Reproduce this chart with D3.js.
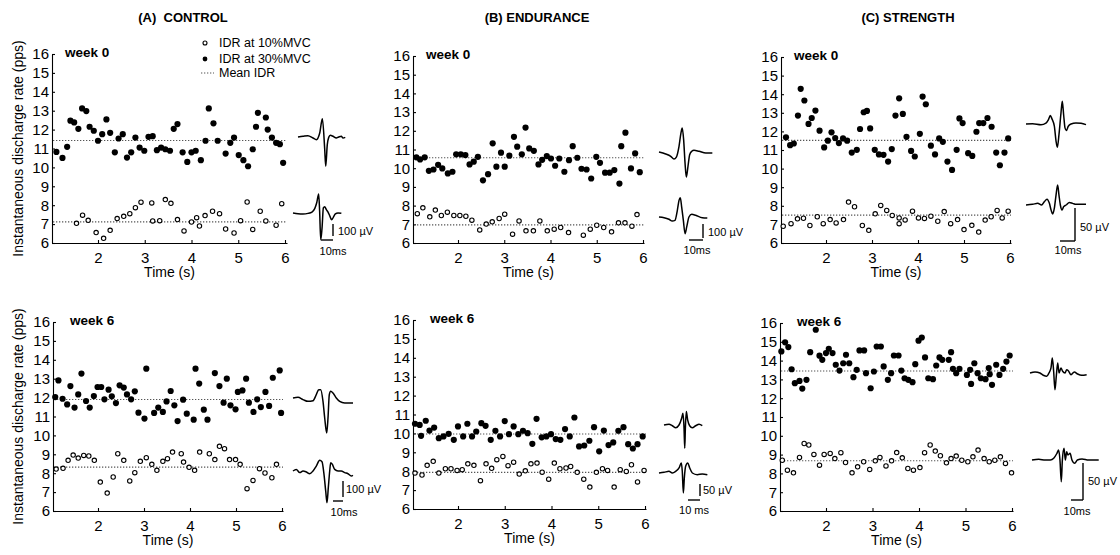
<!DOCTYPE html>
<html><head><meta charset="utf-8">
<script src="https://cdn.jsdelivr.net/npm/d3@7"></script>
<style>
body{margin:0;background:#fff}
svg{display:block}
text{font-family:"Liberation Sans",Arial,sans-serif;fill:#000}
</style>
</head><body>
<svg id="chart" width="1120" height="555"></svg>
<script>
// ---------------- DATA ----------------
const groupTitles = ["(A)  CONTROL", "(B) ENDURANCE", "(C) STRENGTH"];
const weekLabels = ["week 0", "week 6"];
const xTickValues = [2, 3, 4, 5, 6];
const yTickValues = [6, 7, 8, 9, 10, 11, 12, 13, 14, 15, 16];
const legendLabels = ["IDR at 10%MVC", "IDR at 30%MVC", "Mean IDR"];
const yAxisTitle = "Instantaneous discharge rate (pps)";
const xAxisTitle = "Time (s)";

// [time (s), instantaneous discharge rate (pps)]
const ctrlW0_30 = [[1.11,10.82],[1.24,10.50],[1.34,11.09],[1.41,12.47],[1.49,12.38],[1.58,12.04],[1.66,13.12],[1.75,12.98],[1.82,12.15],[1.91,11.94],[2.00,11.41],[2.09,11.76],[2.18,12.54],[2.26,11.83],[2.36,10.80],[2.44,11.53],[2.53,11.76],[2.62,10.52],[2.71,10.80],[2.80,11.58],[2.89,11.05],[2.99,10.88],[3.08,11.62],[3.17,11.65],[3.26,10.91],[3.35,11.05],[3.44,10.96],[3.54,10.88],[3.62,12.04],[3.70,12.29],[3.81,10.80],[3.91,10.29],[4.00,10.80],[4.09,10.88],[4.20,10.38],[4.30,11.41],[4.37,13.12],[4.47,12.33],[4.56,11.41],[4.73,10.73],[4.83,11.30],[4.91,11.58],[5.01,10.65],[5.11,10.38],[5.21,10.06],[5.31,10.96],[5.38,12.15],[5.42,12.89],[5.59,12.64],[5.63,12.00],[5.72,11.58],[5.81,11.30],[5.89,11.23],[5.96,10.24]];
const ctrlW0_10 = [[1.54,7.04],[1.67,7.47],[1.79,7.20],[1.96,6.55],[2.12,6.25],[2.26,6.67],[2.41,7.29],[2.55,7.41],[2.68,7.55],[2.80,7.87],[2.92,8.16],[3.15,8.12],[3.17,7.17],[3.32,7.18],[3.44,8.30],[3.56,8.10],[3.70,7.24],[3.84,6.64],[4.00,7.11],[4.11,7.34],[4.17,6.90],[4.29,7.45],[4.45,7.68],[4.60,7.55],[4.73,6.74],[4.91,6.53],[5.05,7.18],[5.19,8.17],[5.31,6.72],[5.47,7.68],[5.59,7.17],[5.81,6.94],[5.93,8.08]];
const ctrlW0_mean = [11.42, 7.12];

const endW0_30 = [[1.10,10.58],[1.18,10.47],[1.28,10.58],[1.37,9.86],[1.47,9.93],[1.57,10.18],[1.66,9.99],[1.78,9.72],[1.88,9.81],[1.96,10.74],[2.06,10.74],[2.16,10.70],[2.25,10.20],[2.34,10.35],[2.43,10.61],[2.54,9.35],[2.65,9.68],[2.75,11.33],[2.83,10.08],[2.93,10.83],[3.01,10.08],[3.11,10.67],[3.21,11.68],[3.28,11.15],[3.38,10.74],[3.46,12.17],[3.54,11.06],[3.64,10.93],[3.74,10.20],[3.82,10.45],[3.92,10.65],[4.01,10.52],[4.10,10.13],[4.19,10.52],[4.30,9.81],[4.40,10.43],[4.48,11.18],[4.58,10.56],[4.67,9.97],[4.78,9.93],[4.88,9.45],[4.99,10.61],[5.07,10.29],[5.18,9.76],[5.28,9.76],[5.38,9.90],[5.49,9.18],[5.53,11.18],[5.62,11.90],[5.74,9.99],[5.83,10.79],[5.93,9.79]];
const endW0_10 = [[1.12,7.57],[1.24,7.88],[1.39,7.40],[1.51,7.76],[1.64,7.47],[1.77,7.65],[1.91,7.47],[2.04,7.47],[2.17,7.43],[2.30,7.22],[2.47,6.70],[2.61,7.01],[2.74,7.13],[2.89,7.31],[3.01,7.54],[3.18,6.47],[3.32,7.18],[3.47,6.65],[3.63,6.65],[3.77,7.18],[3.93,6.65],[4.08,6.74],[4.22,6.83],[4.39,6.56],[4.71,6.42],[4.86,6.74],[5.00,6.95],[5.15,6.83],[5.32,6.60],[5.47,7.08],[5.61,7.08],[5.76,6.90],[5.87,7.52]];
const endW0_mean = [10.56, 6.97];

const strW0_30 = [[1.13,11.68],[1.22,11.26],[1.30,11.35],[1.39,12.85],[1.45,14.29],[1.53,13.66],[1.62,12.40],[1.69,12.72],[1.77,13.12],[1.86,12.04],[1.96,11.14],[2.04,11.50],[2.12,11.95],[2.20,11.64],[2.28,11.37],[2.37,11.62],[2.46,11.50],[2.56,10.86],[2.67,11.01],[2.74,12.13],[2.82,13.03],[2.89,13.10],[2.96,12.16],[3.06,11.01],[3.15,10.76],[3.25,10.74],[3.35,10.38],[3.43,11.05],[3.51,12.85],[3.59,13.78],[3.67,12.94],[3.75,11.71],[3.85,10.95],[3.93,10.65],[4.04,11.87],[4.10,13.87],[4.17,13.46],[4.28,11.23],[4.37,10.76],[4.46,11.62],[4.54,11.44],[4.64,10.38],[4.74,9.93],[4.84,11.01],[4.90,12.70],[4.97,12.45],[5.09,10.83],[5.18,10.68],[5.27,11.98],[5.33,12.45],[5.42,12.45],[5.51,12.72],[5.60,12.25],[5.70,10.86],[5.78,10.18],[5.88,10.86],[5.96,11.62]];
const strW0_10 = [[1.07,6.90],[1.24,7.04],[1.38,7.30],[1.51,7.33],[1.65,6.94],[1.81,7.41],[1.94,7.04],[2.09,7.26],[2.22,7.08],[2.38,7.26],[2.49,8.20],[2.62,7.95],[2.79,6.94],[2.93,6.68],[3.07,7.57],[3.19,8.02],[3.32,7.75],[3.44,7.48],[3.59,7.35],[3.59,7.04],[3.72,7.24],[3.88,7.71],[4.01,7.35],[4.14,7.32],[4.28,7.44],[4.43,7.17],[4.57,7.69],[4.71,7.04],[4.86,7.26],[5.00,6.72],[5.17,6.95],[5.32,6.59],[5.46,7.23],[5.59,7.41],[5.72,7.75],[5.83,7.35],[5.96,7.71]];
const strW0_mean = [11.52, 7.50];

const ctrlW6_30 = [[1.07,12.03],[1.14,12.91],[1.23,11.94],[1.33,11.64],[1.40,12.61],[1.49,11.47],[1.57,12.17],[1.64,13.27],[1.74,11.82],[1.82,11.47],[1.91,12.08],[1.99,12.56],[2.07,12.56],[2.14,11.91],[2.23,12.42],[2.30,12.07],[2.39,11.71],[2.47,12.65],[2.56,12.53],[2.63,12.17],[2.72,11.91],[2.80,12.33],[2.88,11.20],[3.01,10.89],[3.05,13.53],[3.22,11.19],[3.31,11.47],[3.41,11.24],[3.49,11.80],[3.58,12.35],[3.66,11.59],[3.73,10.76],[3.85,11.89],[3.93,11.15],[4.08,10.83],[4.12,13.53],[4.20,12.74],[4.30,11.36],[4.38,10.83],[4.54,13.30],[4.64,12.61],[4.73,11.73],[4.80,13.00],[4.88,11.59],[4.99,11.38],[5.04,12.30],[5.14,12.38],[5.22,13.00],[5.28,11.73],[5.38,11.24],[5.46,11.91],[5.54,11.50],[5.64,12.30],[5.72,11.56],[5.80,13.05],[5.95,13.44],[5.98,11.19]];
const ctrlW6_10 = [[1.09,8.22],[1.24,8.26],[1.35,8.68],[1.46,8.96],[1.57,8.80],[1.69,8.94],[1.80,8.91],[1.92,8.68],[2.05,7.53],[2.20,6.95],[2.33,7.80],[2.43,9.03],[2.56,8.68],[2.69,7.59],[2.80,8.03],[2.92,8.63],[3.05,8.82],[3.17,8.47],[3.28,8.15],[3.41,8.63],[3.51,8.77],[3.62,9.12],[3.81,9.03],[3.86,8.59],[3.98,8.31],[4.10,8.15],[4.21,9.12],[4.42,9.03],[4.54,8.72],[4.64,9.42],[4.75,9.30],[4.86,8.72],[4.99,8.72],[5.09,8.47],[5.24,7.18],[5.37,7.62],[5.51,8.24],[5.63,8.01],[5.78,7.76],[5.88,8.47]];
const ctrlW6_mean = [11.90, 8.32];

const endW6_30 = [[1.08,10.51],[1.18,10.45],[1.21,9.87],[1.31,10.67],[1.39,10.15],[1.49,10.31],[1.59,9.75],[1.69,9.84],[1.80,9.98],[1.91,9.66],[2.00,10.37],[2.11,9.84],[2.20,10.51],[2.30,9.84],[2.39,10.10],[2.50,10.54],[2.59,10.40],[2.70,9.66],[2.80,10.14],[2.90,9.84],[3.00,10.65],[3.09,9.96],[3.19,10.37],[3.29,9.96],[3.39,10.14],[3.49,10.01],[3.59,9.45],[3.68,10.77],[3.79,9.79],[3.89,9.84],[3.99,9.96],[4.09,9.70],[4.19,9.66],[4.29,10.23],[4.39,9.84],[4.49,10.84],[4.59,9.31],[4.70,9.36],[4.81,9.61],[4.91,10.33],[5.02,9.05],[5.12,10.15],[5.22,9.38],[5.32,9.52],[5.43,10.14],[5.54,10.33],[5.64,9.43],[5.74,9.20],[5.84,9.43],[5.95,9.84]];
const endW6_10 = [[1.08,7.90],[1.23,7.80],[1.34,8.31],[1.47,8.52],[1.59,7.90],[1.73,8.13],[1.85,8.13],[1.98,8.04],[2.09,8.08],[2.21,8.39],[2.34,8.31],[2.48,7.50],[2.60,8.39],[2.72,8.15],[2.83,8.61],[2.96,8.78],[3.07,8.29],[3.19,8.48],[3.31,7.85],[3.44,8.02],[3.56,8.39],[3.69,8.43],[3.80,7.95],[3.94,7.58],[4.06,8.43],[4.18,8.13],[4.31,8.17],[4.41,8.25],[4.55,7.94],[4.69,7.58],[4.82,7.16],[4.96,7.94],[5.09,8.13],[5.20,8.04],[5.34,7.16],[5.47,8.08],[5.60,7.99],[5.71,8.34],[5.84,7.43],[5.98,8.04]];
const endW6_mean = [9.97, 7.94];

const strW6_30 = [[1.04,14.49],[1.12,14.97],[1.19,14.72],[1.26,13.54],[1.33,12.80],[1.43,12.92],[1.49,12.51],[1.58,12.98],[1.66,14.45],[1.78,15.64],[1.86,14.26],[1.92,14.04],[2.00,14.40],[2.06,14.63],[2.14,14.40],[2.21,13.78],[2.29,13.47],[2.37,13.86],[2.43,14.31],[2.50,13.86],[2.59,13.12],[2.66,13.51],[2.72,14.54],[2.82,14.54],[2.86,13.33],[2.96,12.53],[3.03,13.42],[3.09,14.75],[3.18,14.75],[3.24,13.69],[3.33,12.98],[3.40,13.33],[3.46,14.27],[3.56,14.27],[3.62,13.47],[3.69,13.06],[3.77,12.98],[3.86,12.85],[3.92,13.81],[3.99,15.06],[4.06,15.23],[4.13,14.17],[4.20,13.06],[4.30,13.01],[4.37,13.74],[4.44,14.17],[4.50,14.04],[4.64,14.04],[4.69,14.45],[4.73,13.56],[4.80,13.33],[4.87,13.56],[5.03,13.24],[5.10,13.51],[5.12,12.76],[5.19,13.86],[5.26,13.33],[5.33,13.06],[5.43,13.01],[5.50,13.60],[5.52,13.28],[5.57,12.71],[5.66,13.78],[5.73,13.24],[5.81,13.56],[5.88,13.95],[5.95,14.27]];
const strW6_10 = [[1.06,8.70],[1.17,8.17],[1.30,8.03],[1.43,8.85],[1.53,9.59],[1.63,9.51],[1.74,9.01],[1.86,8.44],[1.96,9.01],[2.09,9.06],[2.19,8.79],[2.32,9.10],[2.42,8.58],[2.56,8.03],[2.68,8.35],[2.81,8.62],[2.94,8.21],[3.06,8.67],[3.16,8.85],[3.29,8.40],[3.41,8.67],[3.52,9.11],[3.64,8.83],[3.76,8.26],[3.88,8.17],[4.02,8.31],[4.12,9.10],[4.24,9.51],[4.35,9.19],[4.46,8.94],[4.59,8.56],[4.69,8.79],[4.80,8.92],[4.92,8.70],[5.05,8.62],[5.16,8.88],[5.27,9.24],[5.40,8.79],[5.51,8.62],[5.63,8.70],[5.75,8.88],[5.86,8.53],[5.99,8.03]];
const strW6_mean = [13.45, 8.67];

// Motor unit action potentials: [time (ms), amplitude (µV)]
const muapCtrlW0_30 = [[0,0],[4.2,6],[8.3,11],[12.5,-8],[15.3,-22],[18.1,33],[20.3,153],[22.2,-92],[23.1,-244],[24.4,-64],[25.6,-3],[26.9,14],[29.2,6],[31.9,-8],[33.9,0],[36.1,6],[37.5,-8],[39.4,-3]];
const muapCtrlW0_10 = [[0,0],[4.2,-6],[8.3,-8],[12.5,-3],[15.8,8],[18.1,36],[19.7,83],[21.4,158],[22.2,14],[23.1,-222],[24.2,-125],[25.3,42],[26.4,53],[27.8,28],[29.2,8],[30.8,-28],[32.2,-56],[33.6,-36],[35.3,-8],[37.5,0],[40.3,-3]];
const muapEndW0_30 = [[0,0],[4.8,-14],[8.4,-31],[10.7,-50],[12.4,-36],[14.3,41],[15.7,136],[16.6,171],[17.6,88],[18.6,-79],[19.5,-179],[20.7,-102],[21.9,-19],[23.4,5],[25,12],[28.6,5],[33.4,-7],[38.1,-7]];
const muapEndW0_10 = [[0,0],[3.6,-5],[7.1,-16],[9.5,-29],[11.4,-24],[13.1,48],[14.3,119],[15.2,138],[16.2,71],[17.4,-24],[18.6,-119],[19.8,-71],[21.4,0],[23.4,19],[26.2,12],[30.9,-5],[34.5,-7]];
const muapStrW0_30 = [[0,0],[4.4,0.5],[10,-1],[13.3,1.5],[14.9,6.4],[16.2,12.7],[17.3,7.8],[18.9,-3.4],[20,-25.5],[20.9,-35.3],[22,-15.7],[23.3,16.2],[24.2,34.3],[25.1,13.7],[26,-5.9],[26.9,-9.8],[28.2,-3.4],[30,0],[33.3,1.5],[36.7,1],[40,-1]];
const muapStrW0_10 = [[0,0],[4.4,1],[7.8,2.5],[10.4,0],[12.2,4.9],[14,8.8],[15.6,2.5],[16.7,-7.4],[17.8,-13.7],[18.9,-4.9],[20,14.7],[21.1,30.4],[22,14.7],[22.9,0],[24,-7.4],[25.1,-2.5],[26.7,0],[28.9,3.9],[31.1,2.5],[33.3,1],[36.7,1],[40,1]];
const muapCtrlW6_30 = [[0,0],[5,4],[10,-10],[15,-21],[20,-17],[23.3,21],[25.7,52],[27.7,52],[30,-21],[31.7,-125],[33.7,-219],[35,-125],[36.3,21],[37.7,42],[40,31],[43.3,0],[46.7,-21],[51.7,-31],[56.7,-31],[60,-31]];
const muapCtrlW6_10 = [[0,0],[3.3,10],[6.7,-10],[10,0],[13.3,-6],[16.7,-17],[20,0],[23.3,31],[26.7,67],[29,58],[31,-21],[32.7,-125],[34,-198],[35.3,-104],[36.7,0],[37.7,52],[39.3,42],[41.7,10],[45,0],[48.3,0],[51.7,-10],[55,-17],[58.3,-31],[60,-27]];
const muapEndW6_30 = [[0,0],[4.2,3],[6.9,-3],[9.8,-11],[12.5,0],[14.7,28],[15.8,49],[16.7,-14],[17.3,-97],[17.8,-14],[18.6,56],[19.7,21],[21.4,-3],[23.6,-11],[26.4,-3],[29.2,3],[31.9,-3]];
const muapEndW6_10 = [[0,0],[4.2,3],[8.3,7],[11.1,0],[13.9,7],[16.7,21],[18.6,42],[19.4,7],[20.3,-83],[21.1,-21],[22.2,28],[23.9,42],[25.6,21],[27.8,0],[31.9,-7],[36.1,-4],[40.3,-7]];
const muapStrW6_30 = [[0,0],[4.2,1.4],[8.3,0],[11.1,-3.1],[13.9,-4.5],[15.8,0],[17.5,6.8],[18.6,20.3],[19.7,2.3],[20.8,-22.6],[21.9,-4.5],[23.1,13.5],[24.2,0],[25.8,6.8],[27.2,2.3],[29.2,0],[30.6,4.5],[31.9,3.1],[34.2,-2.3],[36.9,1.4],[39.7,-1.4],[43.1,-3.1],[47.2,-2.3]];
const muapStrW6_10 = [[0,0],[5.6,0.9],[11.1,0],[15.3,0],[18.1,2.3],[20.8,9.1],[22.2,13.5],[23.3,0],[24.4,-29.3],[25.3,0],[26.7,15.8],[27.8,0],[28.9,11.2],[30,6.8],[31.7,9.1],[33.3,0],[35.6,-4.5],[37.8,0],[41.7,1.4],[47.2,0],[55.6,0]];

const scaleBarUv = [100, 100, 50, 100, 50, 50];
const scaleBarMs = [10, 10, 10, 10, 10, 10];
const scaleBarMsLabel = ["10ms", "10ms", "10ms", "10ms", "10 ms", "10ms"];

// ---------------- LAYOUT ----------------
const panels = [
  {grp:0, wk:0, d30:ctrlW0_30, d10:ctrlW0_10, mean:ctrlW0_mean, left:52, x2:98, x6:285, right:287, y16:54, y6:243,
   w30:muapCtrlW0_30, w10:muapCtrlW0_10, o30:[298,137], o10:[293,213], msPx:1.2, uvPx:0.12, vb:[333,224], hbY:240, uvLab:[338,231], msLab:[333,251]},
  {grp:1, wk:0, d30:endW0_30, d10:endW0_10, mean:endW0_mean, left:413, x2:458, x6:643, right:644, y16:56, y6:243,
   w30:muapEndW0_30, w10:muapEndW0_10, o30:[659,152], o10:[659,217], msPx:1.4, uvPx:0.14, vb:[703,224], hbY:240, uvLab:[708,232], msLab:[697,250]},
  {grp:2, wk:0, d30:strW0_30, d10:strW0_10, mean:strW0_mean, left:781, x2:826, x6:1010, right:1011, y16:57, y6:243,
   w30:muapStrW0_30, w10:muapStrW0_10, o30:[1026,124], o10:[1026,205], msPx:1.5, uvPx:0.66, vb:[1075,208], hbY:241, uvLab:[1080,227], msLab:[1068,250]},
  {grp:0, wk:1, d30:ctrlW6_30, d10:ctrlW6_10, mean:ctrlW6_mean, left:53, x2:98, x6:282, right:283, y16:322, y6:511,
   w30:muapCtrlW6_30, w10:muapCtrlW6_10, o30:[293,398], o10:[293,471], msPx:1.0, uvPx:0.16, vb:[343,481], hbY:501, uvLab:[346,489], msLab:[344,512]},
  {grp:1, wk:1, d30:endW6_30, d10:endW6_10, mean:endW6_mean, left:413, x2:458, x6:645, right:646, y16:320, y6:509,
   w30:muapEndW6_30, w10:muapEndW6_10, o30:[664,425], o10:[659,473], msPx:1.2, uvPx:0.24, vb:[700,484], hbY:500, uvLab:[703,490], msLab:[694,510]},
  {grp:2, wk:1, d30:strW6_30, d10:strW6_10, mean:strW6_mean, left:780, x2:826, x6:1012, right:1013, y16:323, y6:511,
   w30:muapStrW6_30, w10:muapStrW6_10, o30:[1030,373], o10:[1032,460], msPx:1.2, uvPx:0.74, vb:[1083,463], hbY:500, uvLab:[1088,481], msLab:[1077,511]}
];
const titlePos = [[183,22],[537,22],[908,22]];
const FONT = '"Liberation Sans", Arial, sans-serif';

const svg = d3.select("#chart");

// group titles
groupTitles.forEach((t, i) => {
  svg.append("text").attr("x", titlePos[i][0]).attr("y", titlePos[i][1])
    .attr("text-anchor", "middle").attr("font-size", 13).attr("font-weight", "bold")
    .attr("xml:space", "preserve").style("white-space", "pre").text(t);
});

panels.forEach((p, idx) => {
  const g = svg.append("g");
  const xs = d3.scaleLinear().domain([2, 6]).range([p.x2, p.x6]);
  xs.domain([xs.invert(p.left), xs.invert(p.right)]).range([p.left, p.right]);
  const ys = d3.scaleLinear().domain([6, 16]).range([p.y6, p.y16]);

  const xa = g.append("g").attr("transform", `translate(0,${p.y6})`)
    .call(d3.axisBottom(xs).tickValues(xTickValues).tickSize(-3).tickSizeOuter(0).tickPadding(9).tickFormat(d3.format("d")));
  const ya = g.append("g").attr("transform", `translate(${p.left},0)`)
    .call(d3.axisLeft(ys).tickValues(yTickValues).tickSize(-3).tickSizeOuter(0).tickPadding(3).tickFormat(d3.format("d")));
  [xa, ya].forEach(a => {
    a.attr("font-family", FONT).attr("font-size", 15);
    a.selectAll("path,line").attr("stroke", "#000").attr("stroke-width", 1.1);
    a.selectAll("text").attr("fill", "#000");
  });

  // axis titles
  g.append("text").attr("x", (p.left + p.right) / 2).attr("y", p.y6 + 34)
    .attr("text-anchor", "middle").attr("font-size", 14).text(xAxisTitle);
  if (p.grp === 0) {
    g.append("text").attr("transform", `translate(23,${(p.y6 + p.y16) / 2}) rotate(-90)`)
      .attr("text-anchor", "middle").attr("font-size", 14).text(yAxisTitle);
  }
  g.append("text").attr("x", p.left + (p.wk === 0 ? 13 : 17)).attr("y", p.y16 + 3)
    .attr("font-size", 13.5).attr("font-weight", "bold").text(weekLabels[p.wk]);

  // mean lines
  p.mean.forEach(m => {
    g.append("line").attr("x1", p.left + 1).attr("x2", p.right)
      .attr("y1", ys(m)).attr("y2", ys(m))
      .attr("stroke", "#555").attr("stroke-width", 1.1).attr("stroke-dasharray", "1.3,1.7");
  });

  // points
  g.append("g").selectAll("circle").data(p.d30).join("circle")
    .attr("cx", d => xs(d[0])).attr("cy", d => ys(d[1])).attr("r", 3.1).attr("fill", "#000");
  g.append("g").selectAll("circle").data(p.d10).join("circle")
    .attr("cx", d => xs(d[0])).attr("cy", d => ys(d[1])).attr("r", 2.2)
    .attr("fill", "#fff").attr("stroke", "#000").attr("stroke-width", 1.1);

  // MUAP waveforms
  [[p.w30, p.o30], [p.w10, p.o10]].forEach(([w, o]) => {
    const wx = d3.scaleLinear().domain([0, 1]).range([o[0], o[0] + p.msPx]);
    const wy = d3.scaleLinear().domain([0, 1]).range([o[1], o[1] - p.uvPx]);
    g.append("path").datum(w)
      .attr("d", d3.line().x(d => wx(d[0])).y(d => wy(d[1])).curve(d3.curveMonotoneX))
      .attr("fill", "none").attr("stroke", "#000").attr("stroke-width", 1.5).attr("stroke-linejoin", "round");
  });

  // scale bars
  const vLen = scaleBarUv[idx] * p.uvPx;
  const hLen = scaleBarMs[idx] * p.msPx;
  g.append("line").attr("x1", p.vb[0]).attr("x2", p.vb[0]).attr("y1", p.vb[1]).attr("y2", p.vb[1] + vLen)
    .attr("stroke", "#000").attr("stroke-width", 1.4);
  g.append("line").attr("x1", p.vb[0] - hLen).attr("x2", p.vb[0]).attr("y1", p.hbY).attr("y2", p.hbY)
    .attr("stroke", "#000").attr("stroke-width", 1.4);
  g.append("text").attr("x", p.uvLab[0]).attr("y", p.uvLab[1]).attr("dy", "0.35em")
    .attr("font-size", 11).text(scaleBarUv[idx] + " µV");
  g.append("text").attr("x", p.msLab[0]).attr("y", p.msLab[1]).attr("dy", "0.35em")
    .attr("text-anchor", "middle").attr("font-size", 11).text(scaleBarMsLabel[idx]);

  // legend (first panel only)
  if (idx === 0) {
    const lg = g.append("g");
    const lx = 205, ly = [43, 59, 73];
    lg.append("circle").attr("cx", lx).attr("cy", ly[0]).attr("r", 2).attr("fill", "#fff").attr("stroke", "#000").attr("stroke-width", 1.1);
    lg.append("circle").attr("cx", lx).attr("cy", ly[1]).attr("r", 2.4).attr("fill", "#000");
    lg.append("line").attr("x1", lx - 4).attr("x2", lx + 9).attr("y1", ly[2]).attr("y2", ly[2])
      .attr("stroke", "#555").attr("stroke-width", 1.1).attr("stroke-dasharray", "1.3,1.7");
    legendLabels.forEach((t, i) => {
      lg.append("text").attr("x", 219).attr("y", ly[i]).attr("dy", "0.35em").attr("font-size", 12.5).text(t);
    });
  }
});
</script>
</body></html>
